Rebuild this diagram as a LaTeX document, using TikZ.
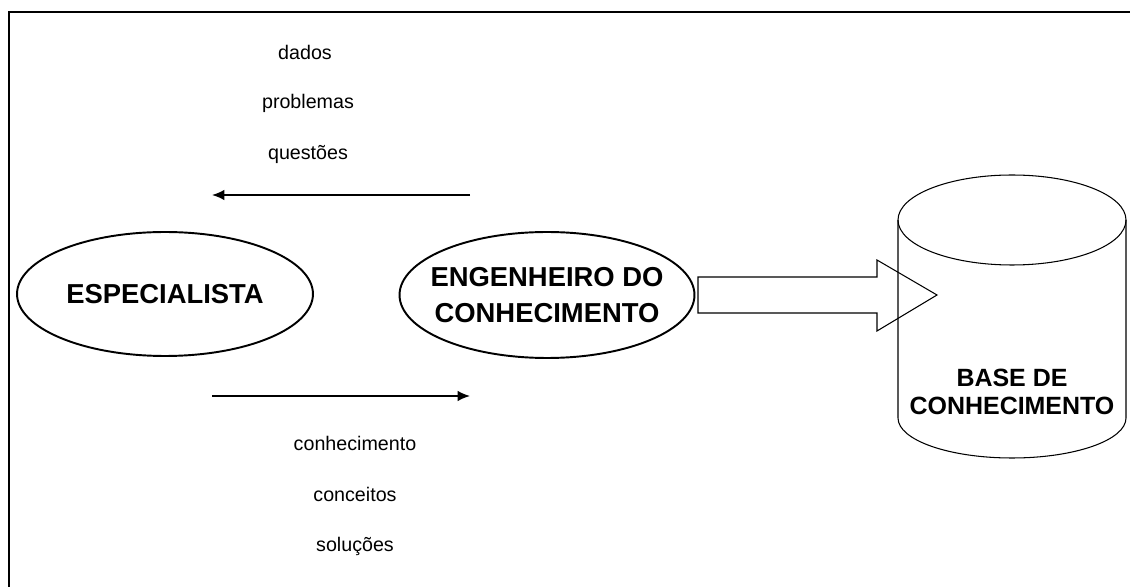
\documentclass[tikz,border=0pt]{standalone}
\usepackage{fontspec}
\setmainfont{Liberation Sans}
\usetikzlibrary{shapes.geometric, arrows.meta}

\tikzset{
	bolha/.style={draw, line width=1.1pt, ellipse, inner sep=0pt, font=\fontsize{15.6}{20.5}\selectfont\bfseries, align=center},
	rotulo/.style={font=\fontsize{11.2}{13}\selectfont},
	fluxo/.style={line width=1pt, -{Latex[length=7pt, width=6pt]}}
}

\begin{document}
\begin{tikzpicture} [x=0.02cm, y=-0.02cm]
	\useasboundingbox (0,0) rectangle (1130,587);
	%%%	Moldura
	\draw[line width=1.2pt] (9,587) -- (9,12) -- (1130,12);
	%%%	Elipses
	\node[bolha, minimum width=5.92cm, minimum height=2.48cm] (esp) at (165,294) {ESPECIALISTA};
	\node[bolha, inner xsep=-8pt, minimum width=5.9cm, minimum height=2.52cm] (eng) at (547,295) {ENGENHEIRO DO\\CONHECIMENTO};
	%%%	Setas
	\coordinate (qa) at (470,195);
	\coordinate (qb) at (212,195);
	\coordinate (ca) at (212,396);
	\coordinate (cb) at (470,396);
	\draw[fluxo] (qa) -- (qb);
	\draw[fluxo] (ca) -- (cb);
	%%%	Rotulos
	\node[rotulo] (dados) at (305,52) {dados};
	\node[rotulo] (probl) at (308,103) {problemas};
	\node[rotulo] (quest) at (308,154) {questões};
	\node[rotulo] (conhec) at (355,443) {conhecimento};
	\node[rotulo] (conce) at (355,494) {conceitos};
	\node[rotulo] (soluc) at (355,546) {soluções};
	%%%	Base (cilindro)
	\draw[semithick] (1012,220) ellipse (114 and 45);
	\draw[semithick] (898,220) -- (898,418) arc (180:0:114 and 40) -- (1126,220);
	\node[font=\fontsize{14.2}{16}\selectfont\bfseries, align=center] (base) at (1012,392) {BASE DE\\CONHECIMENTO};
	%%%	Seta larga
	\draw[semithick] (698,277) -- (877,277) -- (877,260) -- (937,295) -- (877,331) -- (877,313) -- (698,313) -- cycle;
\end{tikzpicture}
\end{document}
